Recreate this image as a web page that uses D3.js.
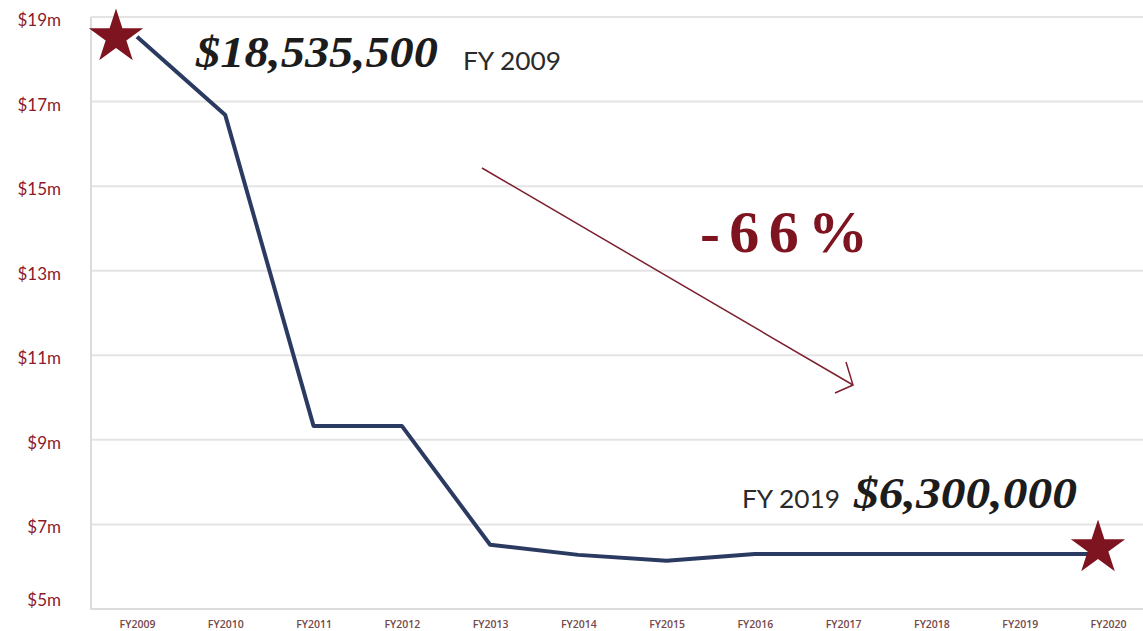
<!DOCTYPE html>
<html>
<head>
<meta charset="utf-8">
<script src="https://cdn.jsdelivr.net/npm/d3@7"></script>
<style>
  html, body { margin: 0; padding: 0; background: #ffffff; }
  svg { display: block; }
</style>
</head>
<body>
<div id="chart"></div>
<script>
// ---- data ----
const years = ["FY2009","FY2010","FY2011","FY2012","FY2013","FY2014","FY2015","FY2016","FY2017","FY2018","FY2019","FY2020"];
const funding = [18.5355, 16.68, 9.33, 9.33, 6.52, 6.28, 6.14, 6.30, 6.30, 6.30, 6.30, 6.30]; // $ millions
const yTicks = [5, 7, 9, 11, 13, 15, 17, 19];
const startLabel = "$18,535,500";
const startYear = "FY 2009";
const endLabel = "$6,300,000";
const endYear = "FY 2019";
const changeLabel = "-66%";

// ---- layout ----
const W = 1143, H = 631;
const svg = d3.select("#chart").append("svg").attr("width", W).attr("height", H);

const x = d3.scalePoint().domain(years).range([137, 1108]);
const y = d3.scaleLinear().domain([5, 19]).range([609, 17]);
const plotLeft = 91, plotRight = W;

const red = "#7d1420";

// gridlines
svg.append("g").selectAll("line").data(yTicks).join("line")
  .attr("x1", plotLeft).attr("x2", plotRight)
  .attr("y1", d => y(d)).attr("y2", d => y(d))
  .attr("stroke", d => d === 5 ? "#dcdcdc" : "#e4e4e4").attr("stroke-width", 2);

// left axis line
svg.append("line").attr("x1", plotLeft).attr("x2", plotLeft)
  .attr("y1", y(19)).attr("y2", y(5) + 1).attr("stroke", "#dcdcdc").attr("stroke-width", 2);

// y axis labels
const yAxis = d3.axisLeft(y).tickValues(yTicks).tickFormat(d => "$" + d + "m").tickSize(0).tickPadding(0);
const gy = svg.append("g").attr("transform", "translate(61,0)").call(yAxis);
gy.select(".domain").remove();
gy.selectAll("text")
  .attr("fill", "#8b1a2b")
  .style("font-family", "Lato, 'Open Sans', sans-serif")
  .style("font-size", "17px")
  .attr("dy", d => d === 5 ? "-0.2em" : "0.5em");

// x axis labels
const xAxis = d3.axisBottom(x).tickSize(0).tickPadding(0);
const gx = svg.append("g").attr("transform", "translate(0,619)").call(xAxis);
gx.select(".domain").remove();
gx.selectAll("text")
  .attr("fill", "#74494a")
  .attr("dy", "0.9em")
  .style("font-family", "'Open Sans', sans-serif")
  .style("font-weight", "600")
  .style("font-size", "10.5px");

// line
const line = d3.line().x((d, i) => x(years[i])).y(d => y(d));
svg.append("path").datum(funding)
  .attr("d", line)
  .attr("fill", "none")
  .attr("stroke", "#2b3a60")
  .attr("stroke-width", 4)
  .attr("stroke-linejoin", "round");

// stars
const star = d3.symbol().type(d3.symbolStar).size(915);
const last = funding.length - 1;
svg.append("path").attr("d", star)
  .attr("transform", `translate(${x(years[0]) - 21},${y(funding[0]) + 0.5})`)
  .attr("fill", red);
svg.append("path").attr("d", star)
  .attr("transform", `translate(${x(years[last]) - 10},${y(funding[last]) - 6})`)
  .attr("fill", red);

// annotations
const bigFont = "'Liberation Serif', 'Times New Roman', serif";
svg.append("text").attr("x", 196).attr("y", 67)
  .attr("textLength", 242).attr("lengthAdjust", "spacingAndGlyphs")
  .style("font-family", bigFont).style("font-weight", "700").style("font-style", "italic")
  .style("font-size", "45px").attr("fill", "#1c1c1c").text(startLabel);
svg.append("text").attr("x", 463).attr("y", 70)
  .attr("textLength", 98).attr("lengthAdjust", "spacingAndGlyphs")
  .style("font-family", "Lato, sans-serif")
  .style("font-size", "25px").attr("fill", "#2a2a2a").text(startYear);

svg.append("text").attr("x", 742).attr("y", 508)
  .attr("textLength", 98).attr("lengthAdjust", "spacingAndGlyphs")
  .style("font-family", "Lato, sans-serif")
  .style("font-size", "25px").attr("fill", "#2a2a2a").text(endYear);
svg.append("text").attr("x", 854).attr("y", 508)
  .attr("textLength", 223).attr("lengthAdjust", "spacingAndGlyphs")
  .style("font-family", bigFont).style("font-weight", "700").style("font-style", "italic")
  .style("font-size", "45px").attr("fill", "#1c1c1c").text(endLabel);

svg.append("text").attr("x", 700).attr("y", 252)
  .attr("textLength", 168).attr("lengthAdjust", "spacing")
  .style("font-family", "'Liberation Serif', serif").style("font-weight", "700")
  .style("font-size", "60px").attr("fill", red).text(changeLabel);

// arrow
const arrowColor = "#7d2030";
svg.append("line").attr("x1", 482).attr("y1", 168).attr("x2", 853).attr("y2", 385)
  .attr("stroke", arrowColor).attr("stroke-width", 1.5);
svg.append("polyline").attr("points", "846,362 853,385 835,393")
  .attr("fill", "none").attr("stroke", arrowColor).attr("stroke-width", 1.5);
</script>
</body>
</html>
